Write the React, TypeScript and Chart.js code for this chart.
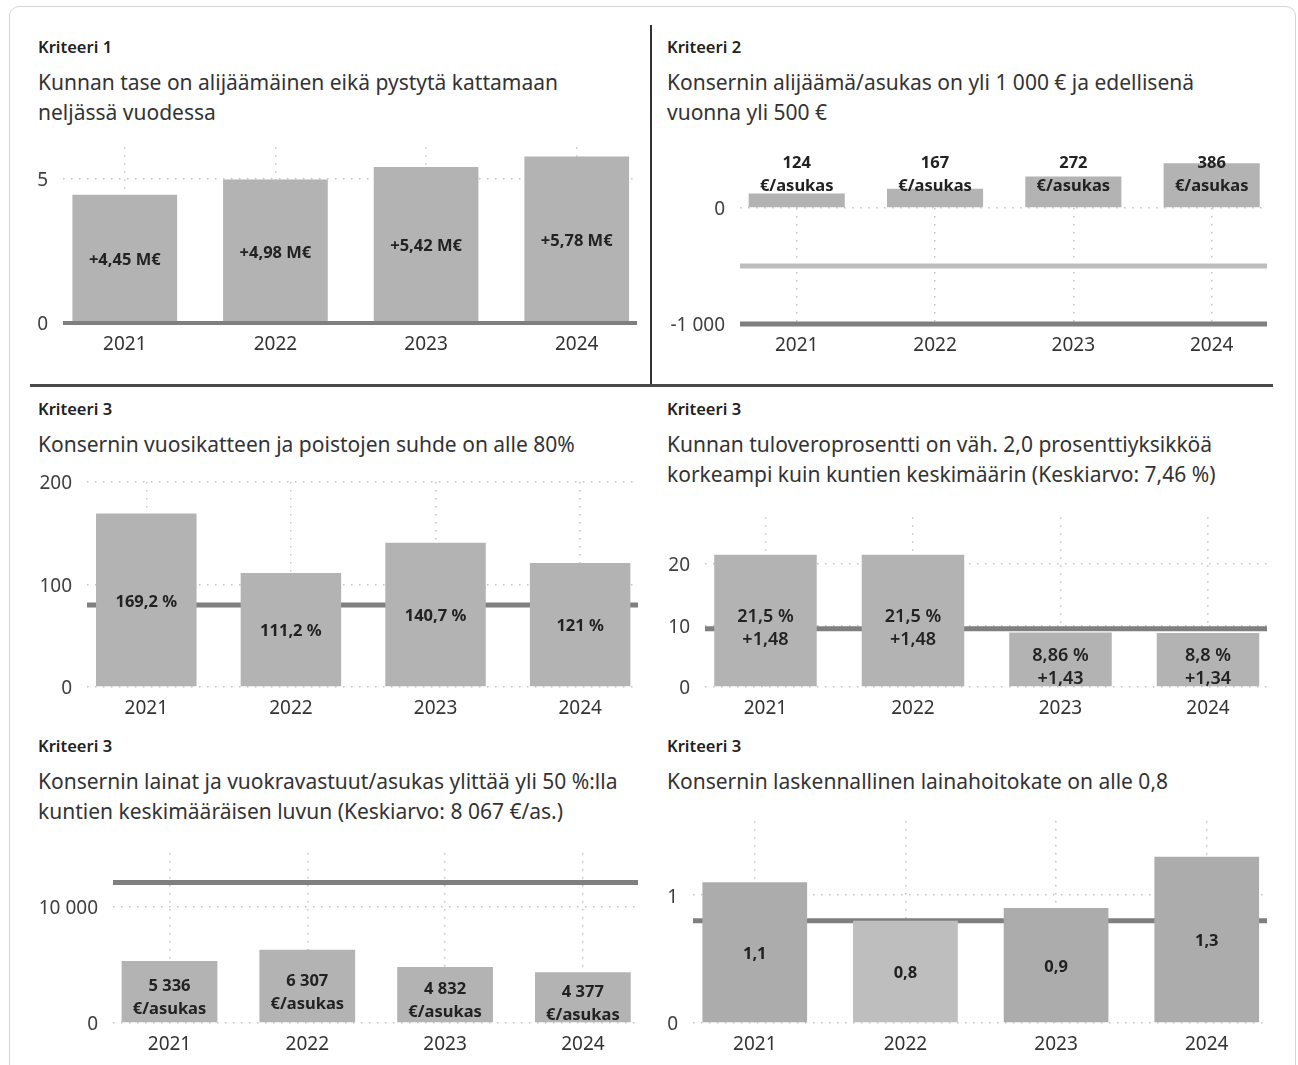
import React, { useEffect, useRef } from "react";
import { Chart, registerables } from "chart.js";

Chart.register(...registerables);

const FONT = "'Noto Sans', 'Open Sans', sans-serif";
Chart.defaults.font.family = FONT;

// ---------- DATA ----------
const years = ["2021", "2022", "2023", "2024"];

// Kriteeri 1: kunnan taseen ylijäämä (M€)
const k1Values = [4.45, 4.98, 5.42, 5.78];
const k1Ticks = [0, 5];
const k1Limit = [0];

// Kriteeri 2: konsernin yli-/alijäämä €/asukas
const k2Values = [124, 167, 272, 386];
const k2Ticks = [-1000, 0];
const k2LimitPrev = [-500];
const k2LimitCurr = [-1000];

// Kriteeri 3a: vuosikate / poistot %
const k3aValues = [169.2, 111.2, 140.7, 121];
const k3aTicks = [0, 100, 200];
const k3aLimit = [80];

// Kriteeri 3b: tuloveroprosentti
const k3bValues = [21.5, 21.5, 8.86, 8.8];
const k3bDiff = [1.48, 1.48, 1.43, 1.34];
const k3bTicks = [0, 10, 20];
const taxAverage = [7.46];
const taxMargin = [2.0];

// Kriteeri 3c: lainat ja vuokravastuut €/asukas
const k3cValues = [5336, 6307, 4832, 4377];
const k3cTicks = [0, 10000];
const loanAverage = [8067];
const loanFactor = [1.5];

// Kriteeri 3d: laskennallinen lainanhoitokate
const k3dValues = [1.1, 0.8, 0.9, 1.3];
const k3dTicks = [0, 1];
const k3dLimit = [0.8];

// ---------- helpers ----------
function fiNum(v: number): string {
  const neg = v < 0;
  const s = String(Math.round(Math.abs(v) * 1000) / 1000);
  const [int, dec] = s.split(".");
  const grouped = int.replace(/\B(?=(\d{3})+(?!\d))/g, " ");
  return (neg ? "-" : "") + grouped + (dec ? "," + dec : "");
}

type Line = { value: number; color: string; width: number; front?: boolean };
type PanelDef = {
  values: number[];
  colors: string[];
  yMin: number;
  yMax: number;
  yTicks: number[];
  lines: Line[];
  labels: (v: number, i: number) => string[];
  labelMode: "center" | "top";
  labelFont: string;
  labelShift: number;
  lineGap: number;
  canvas: [number, number, number, number];
  plot: [number, number, number, number];
};

const BAR = "#b3b3b3";
const LIMIT = "#7f7f7f";
const GRID = "#c4c4c4";
const LBL = `bold 16.5px ${FONT}`;

const panels: PanelDef[] = [
  {
    values: k1Values,
    colors: k1Values.map(() => BAR),
    yMin: 0,
    yMax: 6.1,
    yTicks: k1Ticks,
    lines: k1Limit.map((v) => ({ value: v, color: LIMIT, width: 4, front: true })),
    labels: (v) => ["+" + fiNum(v) + " M€"],
    labelMode: "center",
    labelFont: LBL,
    labelShift: 2,
    lineGap: 23,
    canvas: [20, 112, 648, 366],
    plot: [63, 147.3, 637, 323],
  },
  {
    values: k2Values,
    colors: k2Values.map(() => BAR),
    yMin: -1000,
    yMax: 0,
    yTicks: k2Ticks,
    lines: [
      ...k2LimitPrev.map((v) => ({ value: v, color: "#bdbdbd", width: 5 })),
      ...k2LimitCurr.map((v) => ({ value: v, color: LIMIT, width: 5 })),
    ],
    labels: (v) => [fiNum(v), "€/asukas"],
    labelMode: "top",
    labelFont: LBL,
    labelShift: -33,
    lineGap: 23,
    canvas: [656, 140, 1280, 366],
    plot: [740, 208, 1267, 324],
  },
  {
    values: k3aValues,
    colors: k3aValues.map(() => BAR),
    yMin: 0,
    yMax: 200,
    yTicks: k3aTicks,
    lines: k3aLimit.map((v) => ({ value: v, color: LIMIT, width: 5 })),
    labels: (v) => [fiNum(v) + " %"],
    labelMode: "center",
    labelFont: LBL,
    labelShift: 2,
    lineGap: 23,
    canvas: [20, 450, 648, 726],
    plot: [87, 482, 638, 687],
  },
  {
    values: k3bValues,
    colors: k3bValues.map(() => BAR),
    yMin: 0,
    yMax: 27.6,
    yTicks: k3bTicks,
    lines: taxAverage.map((v, i) => ({ value: v + taxMargin[i], color: LIMIT, width: 5 })),
    labels: (v, i) => [fiNum(v) + " %", "+" + fiNum(k3bDiff[i])],
    labelMode: "center",
    labelFont: `600 18px ${FONT}`,
    labelShift: 7.5,
    lineGap: 23,
    canvas: [656, 485, 1280, 726],
    plot: [705, 517.3, 1267, 687],
  },
  {
    values: k3cValues,
    colors: k3cValues.map(() => BAR),
    yMin: 0,
    yMax: 14650,
    yTicks: k3cTicks,
    lines: loanAverage.map((v, i) => ({ value: v * loanFactor[i], color: LIMIT, width: 5 })),
    labels: (v) => [fiNum(v), "€/asukas"],
    labelMode: "center",
    labelFont: LBL,
    labelShift: 6.5,
    lineGap: 23,
    canvas: [20, 820, 648, 1063],
    plot: [113, 853, 638, 1023],
  },
  {
    values: k3dValues,
    colors: ["#acacac", "#bebebe", "#acacac", "#acacac"],
    yMin: 0,
    yMax: 1.58,
    yTicks: k3dTicks,
    lines: k3dLimit.map((v) => ({ value: v, color: LIMIT, width: 5 })),
    labels: (v) => [fiNum(v)],
    labelMode: "center",
    labelFont: LBL,
    labelShift: 2,
    lineGap: 23,
    canvas: [656, 789, 1280, 1063],
    plot: [693, 821, 1267, 1023],
  },
];

function Panel({ def }: { def: PanelDef }) {
  const ref = useRef<HTMLCanvasElement>(null);
  const [cl, ct, cr, cb] = def.canvas;
  const [pl, pt, pr, pb] = def.plot;
  useEffect(() => {
    const drawLines = (chart: any, front: boolean) => {
      const { ctx, chartArea } = chart;
      const ys = chart.scales.y;
      def.lines
        .filter((l) => !!l.front === front)
        .forEach((l) => {
          const y = ys.getPixelForValue(l.value);
          ctx.save();
          ctx.strokeStyle = l.color;
          ctx.lineWidth = l.width;
          ctx.beginPath();
          ctx.moveTo(chartArea.left, y);
          ctx.lineTo(chartArea.right, y);
          ctx.stroke();
          ctx.restore();
        });
    };
    const linesPlugin = {
      id: "limits",
      beforeDatasetsDraw(chart: any) {
        drawLines(chart, false);
      },
      afterDatasetsDraw(chart: any) {
        drawLines(chart, true);
      },
    };
    const labelPlugin = {
      id: "barLabels",
      afterDraw(chart: any) {
        const ctx = chart.ctx;
        const meta = chart.getDatasetMeta(0);
        ctx.save();
        ctx.font = def.labelFont;
        ctx.fillStyle = "#222222";
        ctx.textAlign = "center";
        ctx.textBaseline = "middle";
        meta.data.forEach((el: any, i: number) => {
          const p = el.getProps(["x", "y", "base"], true);
          const lines = def.labels(def.values[i], i);
          const cy =
            def.labelMode === "top"
              ? chart.chartArea.top + def.labelShift
              : (p.y + p.base) / 2 + def.labelShift;
          const y0 = cy - ((lines.length - 1) * def.lineGap) / 2;
          lines.forEach((t, k) => ctx.fillText(t, p.x, y0 + k * def.lineGap));
        });
        ctx.restore();
      },
    };
    const chart = new Chart(ref.current as HTMLCanvasElement, {
      type: "bar",
      data: {
        datasets: [
          {
            data: def.values.map((v, i) => ({ x: i, y: v })),
            backgroundColor: def.colors,
            borderWidth: 0,
            barPercentage: 0.695,
            categoryPercentage: 1,
            clip: false as any,
          } as any,
        ],
      },
      options: {
        animation: false,
        responsive: false,
        maintainAspectRatio: false,
        layout: { padding: { top: pt - ct, right: cr - pr, left: 0, bottom: 0 } },
        plugins: { legend: { display: false }, tooltip: { enabled: false } },
        scales: {
          x: {
            type: "linear",
            min: -0.41,
            max: 3.4,
            offset: false,
            afterBuildTicks: (s: any) => {
              s.ticks = years.map((_, i) => ({ value: i }));
            },
            afterFit: (s: any) => {
              s.height = cb - pb;
            },
            ticks: {
              callback: (v: any) => years[Math.round(Number(v))],
              padding: 10,
              color: "#333333",
              font: { size: 19, family: FONT },
              maxRotation: 0,
              autoSkip: false,
            },
            grid: { color: GRID, lineWidth: 1.5, drawTicks: false, offset: false },
            border: { display: false, dash: [1.5, 6.5] },
          } as any,
          y: {
            type: "linear",
            min: def.yMin,
            max: def.yMax,
            afterBuildTicks: (s: any) => {
              s.ticks = def.yTicks.map((v) => ({ value: v }));
            },
            afterFit: (s: any) => {
              s.width = pl - cl;
            },
            ticks: {
              callback: (v: any) => fiNum(Number(v)),
              padding: 15,
              labelOffset: 2,
              color: "#404040",
              font: { size: 19, family: FONT },
            },
            grid: { color: GRID, lineWidth: 1.5, drawTicks: false },
            border: { display: false, dash: [1.5, 6.5] },
          } as any,
        },
      },
      plugins: [linesPlugin, labelPlugin],
    });
    return () => chart.destroy();
  }, []);
  return (
    <canvas
      ref={ref}
      width={cr - cl}
      height={cb - ct}
      style={{ position: "absolute", left: cl, top: ct, width: cr - cl, height: cb - ct }}
    />
  );
}

const kritStyle: React.CSSProperties = {
  position: "absolute",
  fontFamily: FONT,
  fontWeight: 600,
  fontSize: 16.5,
  lineHeight: "20px",
  color: "#222",
  whiteSpace: "nowrap",
};
const titleStyle: React.CSSProperties = {
  position: "absolute",
  fontFamily: FONT,
  fontSize: 21,
  lineHeight: "30.5px",
  color: "#333",
  whiteSpace: "nowrap",
};

function Head({ x, y, krit, lines }: { x: number; y: number; krit: string; lines: string[] }) {
  return (
    <>
      <div style={{ ...kritStyle, left: x, top: y - 10 }}>{krit}</div>
      <div style={{ ...titleStyle, left: x, top: y + 35 - 15.25 }}>
        {lines.map((l, i) => (
          <div key={i}>{l}</div>
        ))}
      </div>
    </>
  );
}

export default function App() {
  return (
    <div style={{ position: "absolute", left: 0, top: 0, width: 1298, height: 1065, overflow: "hidden", background: "#fff" }}>
      <div
        style={{
          position: "absolute",
          left: 9,
          top: 6,
          width: 1287,
          height: 1085,
          border: "1px solid #d4d4d4",
          borderRadius: 10,
          boxSizing: "border-box",
        }}
      />
      <div style={{ position: "absolute", left: 650, top: 25, width: 2, height: 360, background: "#333" }} />
      <div style={{ position: "absolute", left: 30, top: 384, width: 1243, height: 3, background: "#4a4a4a" }} />

      <Head x={38} y={47} krit="Kriteeri 1" lines={["Kunnan tase on alijäämäinen eikä pystytä kattamaan", "neljässä vuodessa"]} />
      <Head x={667} y={47} krit="Kriteeri 2" lines={["Konsernin alijäämä/asukas on yli 1 000 € ja edellisenä", "vuonna yli 500 €"]} />
      <Head x={38} y={409} krit="Kriteeri 3" lines={[`Konsernin vuosikatteen ja poistojen suhde on alle ${fiNum(k3aLimit[0])}%`]} />
      <Head
        x={667}
        y={409}
        krit="Kriteeri 3"
        lines={[
          `Kunnan tuloveroprosentti on väh. ${taxMargin[0].toFixed(1).replace(".", ",")} prosenttiyksikköä`,
          `korkeampi kuin kuntien keskimäärin (Keskiarvo: ${fiNum(taxAverage[0])} %)`,
        ]}
      />
      <Head
        x={38}
        y={746}
        krit="Kriteeri 3"
        lines={[
          "Konsernin lainat ja vuokravastuut/asukas ylittää yli 50 %:lla",
          `kuntien keskimääräisen luvun (Keskiarvo: ${fiNum(loanAverage[0])} €/as.)`,
        ]}
      />
      <Head x={667} y={746} krit="Kriteeri 3" lines={[`Konsernin laskennallinen lainahoitokate on alle ${fiNum(k3dLimit[0])}`]} />

      {panels.map((p, i) => (
        <Panel key={i} def={p} />
      ))}
    </div>
  );
}
